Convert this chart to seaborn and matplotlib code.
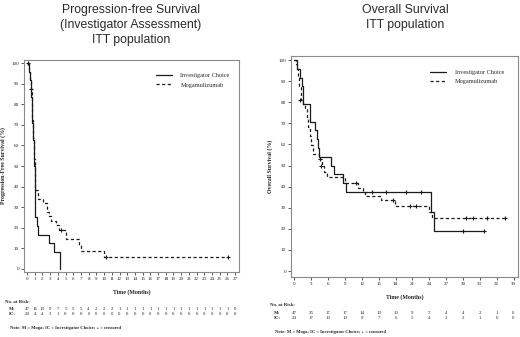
import matplotlib
matplotlib.use("Agg")
import matplotlib.pyplot as plt
import matplotlib.transforms as mtransforms
import numpy as np
import pandas as pd
import seaborn as sns

# ---------------- data ----------------
# PFS, Investigator Choice (solid)
pfs_ic_t = [0, 0.2, 0.45, 0.5, 0.55, 0.6, 0.65, 0.7, 0.75, 0.8, 0.85, 0.9, 0.95, 1.07, 1.25, 1.4, 2.8, 3.55, 4.33]
pfs_ic_s = [100, 95.8, 91.7, 87.5, 83.3, 79.2, 75.0, 70.8, 66.7, 62.5, 58.3, 54.2, 50.0, 25.0, 20.8, 16.7, 12.5, 8.3, 0.0]
pfs_ic_cens_t = []
pfs_ic_cens_s = []

# PFS, Mogamulizumab (dashed)
pfs_m_t = [0, 0.15, 0.3, 0.4, 0.5, 0.6, 0.7, 0.8, 0.9, 1.0, 1.1, 1.4, 2.1, 2.6, 2.9, 3.1, 3.8, 4.2, 5.0, 6.7, 7.0, 10.0, 26.1]
pfs_m_s = [100, 97.9, 95.7, 91.5, 87.2, 80.9, 72.3, 63.8, 53.2, 44.7, 38.3, 34.0, 31.9, 27.7, 25.5, 23.4, 21.3, 19.1, 14.5, 11.5, 8.7, 6.0, 6.0]
pfs_m_cens_t = [0.1, 0.5, 4.4, 10.2, 26.1]
pfs_m_cens_s = [100, 87.2, 19.1, 6.0, 6.0]

# OS, Investigator Choice (solid)
os_ic_t = [0, 0.5, 1.0, 1.3, 1.6, 2.8, 3.7, 4.0, 4.2, 4.45, 6.6, 7.1, 8.6, 9.1, 24.35, 24.9, 33.8]
os_ic_s = [100, 95.8, 91.7, 87.5, 79.2, 70.8, 66.7, 62.5, 58.3, 54.2, 50.0, 45.8, 41.7, 37.5, 28.1, 18.8, 18.8]
os_ic_cens_t = [13.8, 16.3, 19.8, 22.5, 30.1, 33.8]
os_ic_cens_s = [37.5, 37.5, 37.5, 37.5, 18.8, 18.8]

# OS, Mogamulizumab (dashed)
os_m_t = [0, 0.3, 0.5, 0.7, 0.9, 1.1, 1.5, 1.9, 2.2, 2.5, 2.7, 3.0, 3.3, 4.3, 4.9, 5.2, 5.8, 9.0, 11.4, 12.2, 12.65, 15.4, 17.9, 23.9, 24.5, 37.5]
os_m_s = [100, 97.9, 95.7, 91.5, 87.2, 80.9, 78.7, 76.6, 72.3, 68.1, 63.8, 59.6, 55.3, 53.2, 50.0, 47.0, 44.4, 41.9, 39.6, 37.5, 35.8, 33.5, 30.8, 28.0, 25.3, 25.3]
os_m_cens_t = [1.0, 4.5, 4.8, 10.9, 17.6, 20.6, 21.6, 30.6, 31.8, 34.3, 37.5]
os_m_cens_s = [80.9, 53.2, 50.0, 41.9, 33.5, 30.8, 30.8, 25.3, 25.3, 25.3, 25.3]

pfs_xticks = list(range(0, 28))
os_xticks = list(range(0, 40, 3))
yticks = list(range(0, 101, 10))

pfs_risk_m = [47, 16, 13, 9, 7, 5, 5, 5, 4, 2, 2, 2, 1, 1, 1, 1, 1, 1, 1, 1, 1, 1, 1, 1, 1, 1, 1, 0]
pfs_risk_ic = [24, 4, 4, 3, 1, 0, 0, 0, 0, 0, 0, 0, 0, 0, 0, 0, 0, 0, 0, 0, 0, 0, 0, 0, 0, 0, 0, 0]
os_risk_m = [47, 25, 17, 17, 14, 13, 10, 9, 7, 4, 4, 2, 1, 0]
os_risk_ic = [24, 17, 13, 10, 9, 7, 6, 5, 4, 2, 2, 1, 0, 0]

label_ic = "Investigator Choice"
label_m = "Mogamulizumab"

# ---------------- style ----------------
sns.set_style("white")
plt.rcParams["font.family"] = ["Liberation Serif", "DejaVu Serif"]

W, H = 520, 337
fig = plt.figure(figsize=(W / 100, H / 100), dpi=100)


def fx(px):
    return px / W


def fy(py):
    return 1 - py / H


LINE_C = "#1a1a1a"
FRAME_C = "#8a8a8a"


def km(ax, t, s, ls, label):
    df = pd.DataFrame({"t": t, "s": s})
    sns.lineplot(data=df, x="t", y="s", ax=ax, estimator=None, sort=False,
                 drawstyle="steps-post", color=LINE_C, linewidth=0.9,
                 linestyle=ls, label=label)


def cens(ax, t, s):
    if len(t) == 0:
        return
    df = pd.DataFrame({"t": t, "s": s})
    sns.scatterplot(data=df, x="t", y="s", ax=ax, marker="+", s=9,
                    color=LINE_C, linewidth=0.8, legend=False, zorder=5)


def style_axes(ax, xticks, xlim, ylim, ylabel):
    ax.set_xlim(*xlim)
    ax.set_ylim(*ylim)
    ax.set_xticks(xticks)
    ax.set_yticks(yticks)
    ax.set_xticklabels([str(v) for v in xticks], fontsize=3.6)
    ax.set_yticklabels([str(v) for v in yticks], fontsize=3.6)
    ax.tick_params(axis="both", direction="out", length=2, width=0.5,
                   pad=1.5, colors=LINE_C, bottom=True, left=True)
    for sp in ax.spines.values():
        sp.set_visible(True)
        sp.set_color(FRAME_C)
        sp.set_linewidth(0.8)
    ax.set_xlabel("Time (Months)", fontsize=4.2, fontweight="bold", labelpad=6)
    ax.set_ylabel(ylabel, fontsize=4.2, fontweight="bold", labelpad=4)
    ax.legend(loc="upper left", bbox_to_anchor=(0.6, 0.95), frameon=False,
              fontsize=4.5, handlelength=2.6, handletextpad=1.4,
              labelspacing=0.6, borderaxespad=0)


# ---------------- left: PFS ----------------
ax1 = fig.add_axes([fx(24), fy(272), fx(239) - fx(24), fy(60) - fy(272)])
km(ax1, pfs_ic_t, pfs_ic_s, "-", label_ic)
km(ax1, pfs_m_t, pfs_m_s, (0, (2.5, 2)), label_m)
cens(ax1, pfs_ic_cens_t, pfs_ic_cens_s)
cens(ax1, pfs_m_cens_t, pfs_m_cens_s)
style_axes(ax1, pfs_xticks, (-0.39, 27.5), (-1.5, 101.5),
           "Progression-Free Survival (%)")

# ---------------- right: OS ----------------
ax2 = fig.add_axes([fx(291), fy(277), fx(518) - fx(291), fy(56) - fy(277)])
km(ax2, os_ic_t, os_ic_s, "-", label_ic)
km(ax2, os_m_t, os_m_s, (0, (2.5, 2)), label_m)
cens(ax2, os_ic_cens_t, os_ic_cens_s)
cens(ax2, os_m_cens_t, os_m_cens_s)
style_axes(ax2, os_xticks, (-0.6, 39.8), (-2.8, 101.9),
           "Overall Survival (%)")

# ---------------- titles ----------------
tkw = dict(ha="center", va="center", fontsize=8.8, color="#2a2a2a",
           family=["Liberation Sans", "DejaVu Sans"])
fig.text(fx(131), fy(10), "Progression-free Survival", **tkw)
fig.text(fx(131), fy(25), "(Investigator Assessment)", **tkw)
fig.text(fx(131), fy(40), "ITT population", **tkw)
fig.text(fx(405), fy(10), "Overall Survival", **tkw)
fig.text(fx(405), fy(25), "ITT population", **tkw)

# ---------------- at-risk tables ----------------
def risk_table(ax, xticks, r1, r2, x0, y_head, y1, y2, y_note):
    fs = 3.5
    fig.text(fx(x0), fy(y_head), "No. at Risk:", fontsize=fs, fontweight="bold",
             va="center", ha="left")
    fig.text(fx(x0 + 4), fy(y1), "M:", fontsize=fs, fontweight="bold",
             va="center", ha="left")
    fig.text(fx(x0 + 4), fy(y2), "IC:", fontsize=fs, fontweight="bold",
             va="center", ha="left")
    trans = mtransforms.blended_transform_factory(ax.transData, fig.transFigure)
    for xv, a, b in zip(xticks, r1, r2):
        ax.text(xv, fy(y1), str(a), transform=trans, fontsize=fs,
                ha="center", va="center", clip_on=False)
        ax.text(xv, fy(y2), str(b), transform=trans, fontsize=fs,
                ha="center", va="center", clip_on=False)
    fig.text(fx(x0 + 5), fy(y_note),
             "Note: M = Moga; IC = Investigator Choice; + = censored",
             fontsize=3.3, fontweight="bold", va="center", ha="left")


risk_table(ax1, pfs_xticks, pfs_risk_m, pfs_risk_ic, 5, 302, 309, 314, 328)
risk_table(ax2, os_xticks, os_risk_m, os_risk_ic, 270, 305, 313, 318, 332)

fig.savefig("out.png", dpi=100, facecolor="white")
